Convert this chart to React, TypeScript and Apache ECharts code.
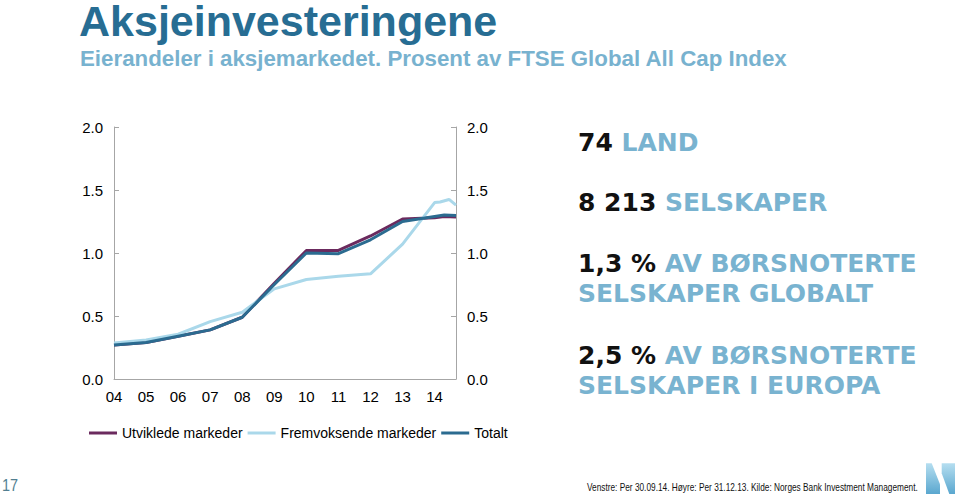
import React, { useEffect, useRef } from "react";
import * as echarts from "echarts";

const seriesNames = ["Utviklede markeder", "Fremvoksende markeder", "Totalt"];
const seriesColors = ["#6b2a5e", "#aad8ea", "#2b6b90"];

// [year (decimal), percent of FTSE Global All Cap]
const utviklede: [number, number][] = [
  [2004, 0.27], [2005, 0.29], [2006, 0.34], [2007, 0.39], [2008, 0.49],
  [2009, 0.76], [2010, 1.02], [2011, 1.02], [2012, 1.135], [2013, 1.27],
  [2014, 1.28], [2014.3, 1.29], [2014.667, 1.285],
];
const fremvoksende: [number, number][] = [
  [2004, 0.285], [2005, 0.31], [2006, 0.355], [2007, 0.455], [2008, 0.53],
  [2009, 0.715], [2010, 0.79], [2011, 0.815], [2012, 0.835], [2013, 1.07],
  [2014, 1.4], [2014.17, 1.405], [2014.45, 1.425], [2014.667, 1.38],
];
const totalt: [number, number][] = [
  [2004, 0.27], [2005, 0.29], [2006, 0.34], [2007, 0.39], [2008, 0.49],
  [2009, 0.75], [2010, 1.0], [2011, 0.995], [2012, 1.105], [2013, 1.25],
  [2014, 1.29], [2014.3, 1.302], [2014.667, 1.298],
];

const xMin = 2004;
const xMax = 2004 + 128 / 12;
const yTicks = [0, 0.5, 1.0, 1.5, 2.0];

const titleText = "Aksjeinvesteringene";
const subtitleText = "Eierandeler i aksjemarkedet. Prosent av FTSE Global All Cap Index";
const facts: { num: string; rest: string; line2?: string }[] = [
  { num: "74", rest: "LAND" },
  { num: "8 213", rest: "SELSKAPER" },
  { num: "1,3 %", rest: "AV BØRSNOTERTE", line2: "SELSKAPER GLOBALT" },
  { num: "2,5 %", rest: "AV BØRSNOTERTE", line2: "SELSKAPER I EUROPA" },
];
const pageNumber = "17";
const sourceText =
  "Venstre: Per 30.09.14. Høyre: Per 31.12.13. Kilde: Norges Bank Investment Management.";

export default function App() {
  const ref = useRef<HTMLDivElement>(null);

  useEffect(() => {
    if (!ref.current) return;
    const chart = echarts.init(ref.current, undefined, { renderer: "svg" });
    const axisGrey = "#a6a6a6";
    const factFont = "DejaVu Sans";
    const factBlue = "#79b3d0";
    const factCenters = [142, 202, 263, 355];
    const factGraphics: any[] = [];
    facts.forEach((f, i) => {
      factGraphics.push({
        type: "text",
        x: 578,
        y: factCenters[i],
        style: {
          x: 0,
          y: 0,
          verticalAlign: "middle",
          align: "left",
          rich: {
            n: { fontFamily: factFont, fontWeight: "bold", fontSize: 25, fill: "#111111" },
            b: { fontFamily: factFont, fontWeight: "bold", fontSize: 25, fill: factBlue },
          },
          text: `{n|${f.num}} {b|${f.rest}}`,
          fill: "#111",
          font: `bold 25px ${factFont}`,
        },
      });
      if (f.line2) {
        factGraphics.push({
          type: "text",
          x: 578,
          y: factCenters[i] + 30,
          style: {
            x: 0,
            y: 0,
            verticalAlign: "middle",
            align: "left",
            text: f.line2,
            fill: factBlue,
            font: `bold 25px ${factFont}`,
          },
        });
      }
    });

    const logoGrad = new echarts.graphic.LinearGradient(0, 0, 0, 1, [
      { offset: 0, color: "#b5def0" },
      { offset: 1, color: "#5aa7cf" },
    ]);

    chart.setOption({
      animation: false,
      backgroundColor: "#ffffff",
      grid: { left: 114, right: 504, top: 127, bottom: 115, containLabel: false },
      legend: {
        data: seriesNames,
        left: 84,
        top: 421,
        icon: "rect",
        itemWidth: 28,
        itemHeight: 3,
        itemGap: 5,
        textStyle: { fontFamily: "Liberation Sans, Arial", fontSize: 14, color: "#000" },
      },
      xAxis: {
        type: "value",
        min: xMin,
        max: xMax,
        interval: 1,
        axisLine: { show: true, lineStyle: { color: axisGrey, width: 1 } },
        axisTick: { show: false },
        splitLine: { show: false },
        axisLabel: {
          fontFamily: "Liberation Sans, Arial",
          fontSize: 15,
          color: "#000",
          margin: 10,
          showMaxLabel: false,
          formatter: (v: number) =>
            Math.abs(v - Math.round(v)) < 1e-6 && v <= 2014 ? String(Math.round(v) % 100).padStart(2, "0") : "",
        },
      },
      yAxis: [0, 1].map((i) => ({
        type: "value",
        position: i === 0 ? "left" : "right",
        min: yTicks[0],
        max: yTicks[yTicks.length - 1],
        interval: 0.5,
        axisLine: { show: true, lineStyle: { color: axisGrey, width: 1 } },
        axisTick: { show: true, inside: true, length: 5, lineStyle: { color: axisGrey } },
        splitLine: { show: false },
        axisLabel: {
          fontFamily: "Liberation Sans, Arial",
          fontSize: 15,
          color: "#000",
          margin: 11,
          formatter: (v: number) => v.toFixed(1),
        },
      })),
      series: [utviklede, fremvoksende, totalt].map((d, i) => ({
        name: seriesNames[i],
        type: "line",
        data: d,
        showSymbol: false,
        symbol: "none",
        lineStyle: { color: seriesColors[i], width: 3 },
        itemStyle: { color: seriesColors[i] },
        z: 2 + i,
      })),
      graphic: [
        {
          type: "text",
          x: 79,
          y: 21,
          style: {
            x: 0,
            y: 0,
            verticalAlign: "middle",
            align: "left",
            lineHeight: 40,
            text: titleText,
            fill: "#276d93",
            font: "bold 43px Liberation Sans, Arial",
          },
        },
        {
          type: "text",
          x: 80,
          y: 58,
          style: {
            x: 0,
            y: 0,
            verticalAlign: "middle",
            align: "left",
            text: subtitleText,
            fill: "#78b2cf",
            font: "bold 22.3px Liberation Sans, Arial",
          },
        },
        ...factGraphics,
        {
          type: "text",
          x: 2,
          y: 485,
          scaleX: 0.85,
          style: {
            x: 0,
            y: 0,
            verticalAlign: "middle",
            align: "left",
            text: pageNumber,
            fill: "#527f91",
            font: "17px Liberation Sans, Arial",
          },
        },
        {
          type: "text",
          x: 587,
          y: 487,
          scaleX: 0.79,
          style: {
            x: 0,
            y: 0,
            verticalAlign: "middle",
            align: "left",
            text: sourceText,
            fill: "#111",
            font: "10.5px Liberation Sans, Arial",
          },
        },
        {
          type: "polygon",
          shape: { points: [[926, 463.3], [931.7, 463.3], [940, 484.3], [940, 494], [926, 494]] },
          style: { fill: logoGrad },
        },
        {
          type: "polygon",
          shape: { points: [[941.7, 463.3], [955, 463.3], [955, 494], [949.3, 494], [941.7, 473.3]] },
          style: { fill: logoGrad },
        },
      ],
    });
    return () => chart.dispose();
  }, []);

  return (
    <div
      ref={ref}
      style={{ position: "absolute", left: 0, top: 0, width: 960, height: 494, background: "#fff" }}
    />
  );
}
